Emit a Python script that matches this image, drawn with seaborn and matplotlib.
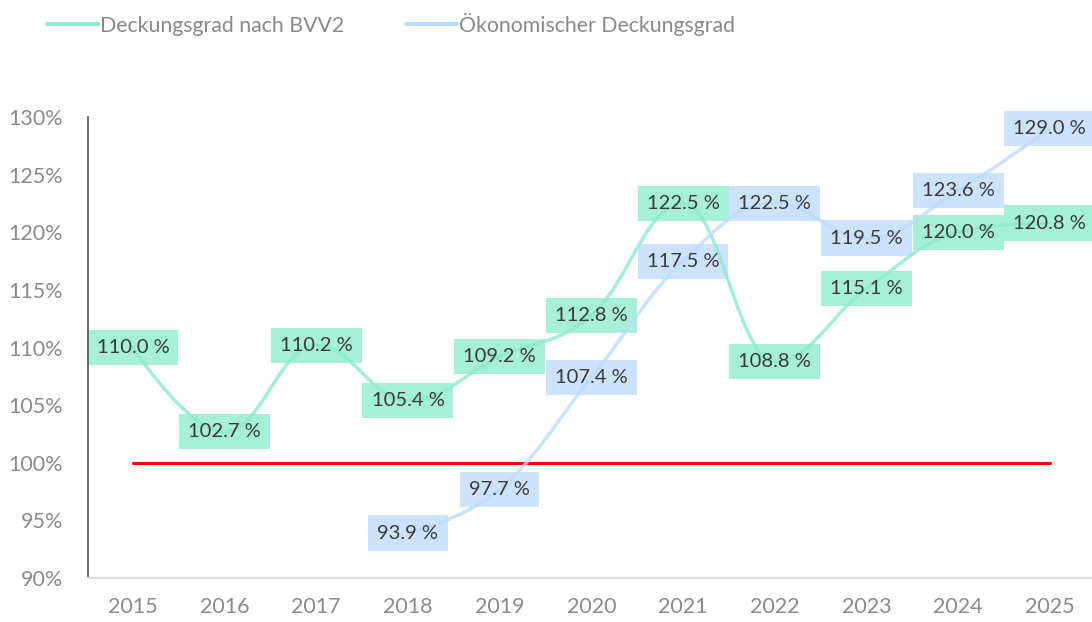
import numpy as np
import pandas as pd
import matplotlib
matplotlib.use("Agg")
import matplotlib.pyplot as plt
import seaborn as sns
from matplotlib.lines import Line2D

years = ["2015", "2016", "2017", "2018", "2019", "2020", "2021", "2022", "2023", "2024", "2025"]
bvv2 = [110.0, 102.7, 110.2, 105.4, 109.2, 112.8, 122.5, 108.8, 115.1, 120.0, 120.8]
oeko_years = ["2018", "2019", "2020", "2021", "2022", "2023", "2024", "2025"]
oeko = [93.9, 97.7, 107.4, 117.5, 122.5, 119.5, 123.6, 129.0]
limit = 100.0
y_ticks = [90, 95, 100, 105, 110, 115, 120, 125, 130]

green_line = "#8eeac9"
green_box = "#a5f0d7"
blue_line = "#bcdcff"
blue_box = "#cde3fd"
grey_txt = "#8a8a8a"


def spline(xs, ys, steps=30):
    # highcharts style spline (smoothing 1.5)
    xs = np.asarray(xs, float)
    ys = np.asarray(ys, float)
    n = len(xs)
    lc = [(xs[i], ys[i]) for i in range(n)]
    rc = [(xs[i], ys[i]) for i in range(n)]
    s, d = 1.5, 2.5
    for i in range(1, n - 1):
        px, py = xs[i], ys[i]
        lx, ly = xs[i - 1], ys[i - 1]
        nx, ny = xs[i + 1], ys[i + 1]
        lcx, lcy = (s * px + lx) / d, (s * py + ly) / d
        rcx, rcy = (s * px + nx) / d, (s * py + ny) / d
        corr = ((rcy - lcy) * (rcx - px)) / (rcx - lcx) + py - rcy
        lcy += corr
        rcy += corr
        if lcy > ly and lcy > py:
            lcy = max(ly, py)
            rcy = 2 * py - lcy
        elif lcy < ly and lcy < py:
            lcy = min(ly, py)
            rcy = 2 * py - lcy
        if rcy > ny and rcy > py:
            rcy = max(ny, py)
            lcy = 2 * py - rcy
        elif rcy < ny and rcy < py:
            rcy = min(ny, py)
            lcy = 2 * py - rcy
        lc[i] = (lcx, lcy)
        rc[i] = (rcx, rcy)
    t = np.linspace(0, 1, steps)
    outx, outy = [], []
    for i in range(n - 1):
        p0 = np.array([xs[i], ys[i]])
        p1 = np.array(rc[i])
        p2 = np.array(lc[i + 1])
        p3 = np.array([xs[i + 1], ys[i + 1]])
        b = ((1 - t) ** 3)[:, None] * p0 + (3 * (1 - t) ** 2 * t)[:, None] * p1 \
            + (3 * (1 - t) * t ** 2)[:, None] * p2 + (t ** 3)[:, None] * p3
        outx.extend(b[:, 0])
        outy.extend(b[:, 1])
    return np.array(outx), np.array(outy)


sns.set_theme(style="white")
plt.rcParams["font.family"] = ["Lato", "DejaVu Sans"]

fig = plt.figure(figsize=(10.92, 6.22), dpi=100)
ax = fig.add_axes([88 / 1092, 44 / 622, 1 - 88 / 1092, 461 / 622])

xg = np.array([years.index(y) for y in years])
xb = np.array([years.index(y) for y in oeko_years])

sx, sy = spline(xg, bvv2)
bx, by = spline(xb, oeko)
sns.lineplot(x=sx, y=sy, ax=ax, sort=False, color=green_line, lw=2.5, alpha=0.8, zorder=3)
sns.lineplot(x=bx, y=by, ax=ax, sort=False, color=blue_line, lw=2.5, alpha=0.8, zorder=3)
sns.lineplot(x=xg, y=[limit] * len(years), ax=ax, color="#ff0000", lw=2.2, zorder=2)

for xs, vals, col in [(xb, oeko, blue_box), (xg, bvv2, green_box)]:
    for x, v in zip(xs, vals):
        lab = f"{v:.1f} %"
        ax.text(x, v, lab, ha="center", va="center", fontsize=14.5, color=(0, 0, 0, 0),
                zorder=1, bbox=dict(boxstyle="square,pad=0.45", fc=col, ec="none"))
        ax.text(x, v, lab, ha="center", va="center", fontsize=14.5, color="#3a3a3a", zorder=4)

ax.set_xlim(-0.49, 10.46)
ax.set_ylim(90, 130)
ax.set_xticks(range(len(years)))
ax.set_xticklabels(years)
ax.set_yticks(y_ticks)
ax.set_yticklabels([f"{v}%" for v in y_ticks])
ax.tick_params(axis="both", length=0, labelsize=15.5, colors=grey_txt)
ax.tick_params(axis="x", pad=14)
ax.tick_params(axis="y", pad=18)
for s in ["top", "right"]:
    ax.spines[s].set_visible(False)
ax.spines["left"].set_color("#555555")
ax.spines["left"].set_linewidth(1.2)
ax.spines["bottom"].set_color("#dddddd")
ax.spines["bottom"].set_linewidth(1.5)
ax.grid(False)

handles = [Line2D([], [], color=green_line, lw=3),
           Line2D([], [], color=blue_line, lw=3)]
fig.legend(handles, ["Deckungsgrad nach BVV2", "Ökonomischer Deckungsgrad"],
           loc="upper left", bbox_to_anchor=(0.0256, 1.01), ncol=2, frameon=False,
           fontsize=15.3, handlelength=2.4, handletextpad=0.1, columnspacing=2.9,
           labelcolor="#888888")

fig.savefig("out.png", dpi=100)
